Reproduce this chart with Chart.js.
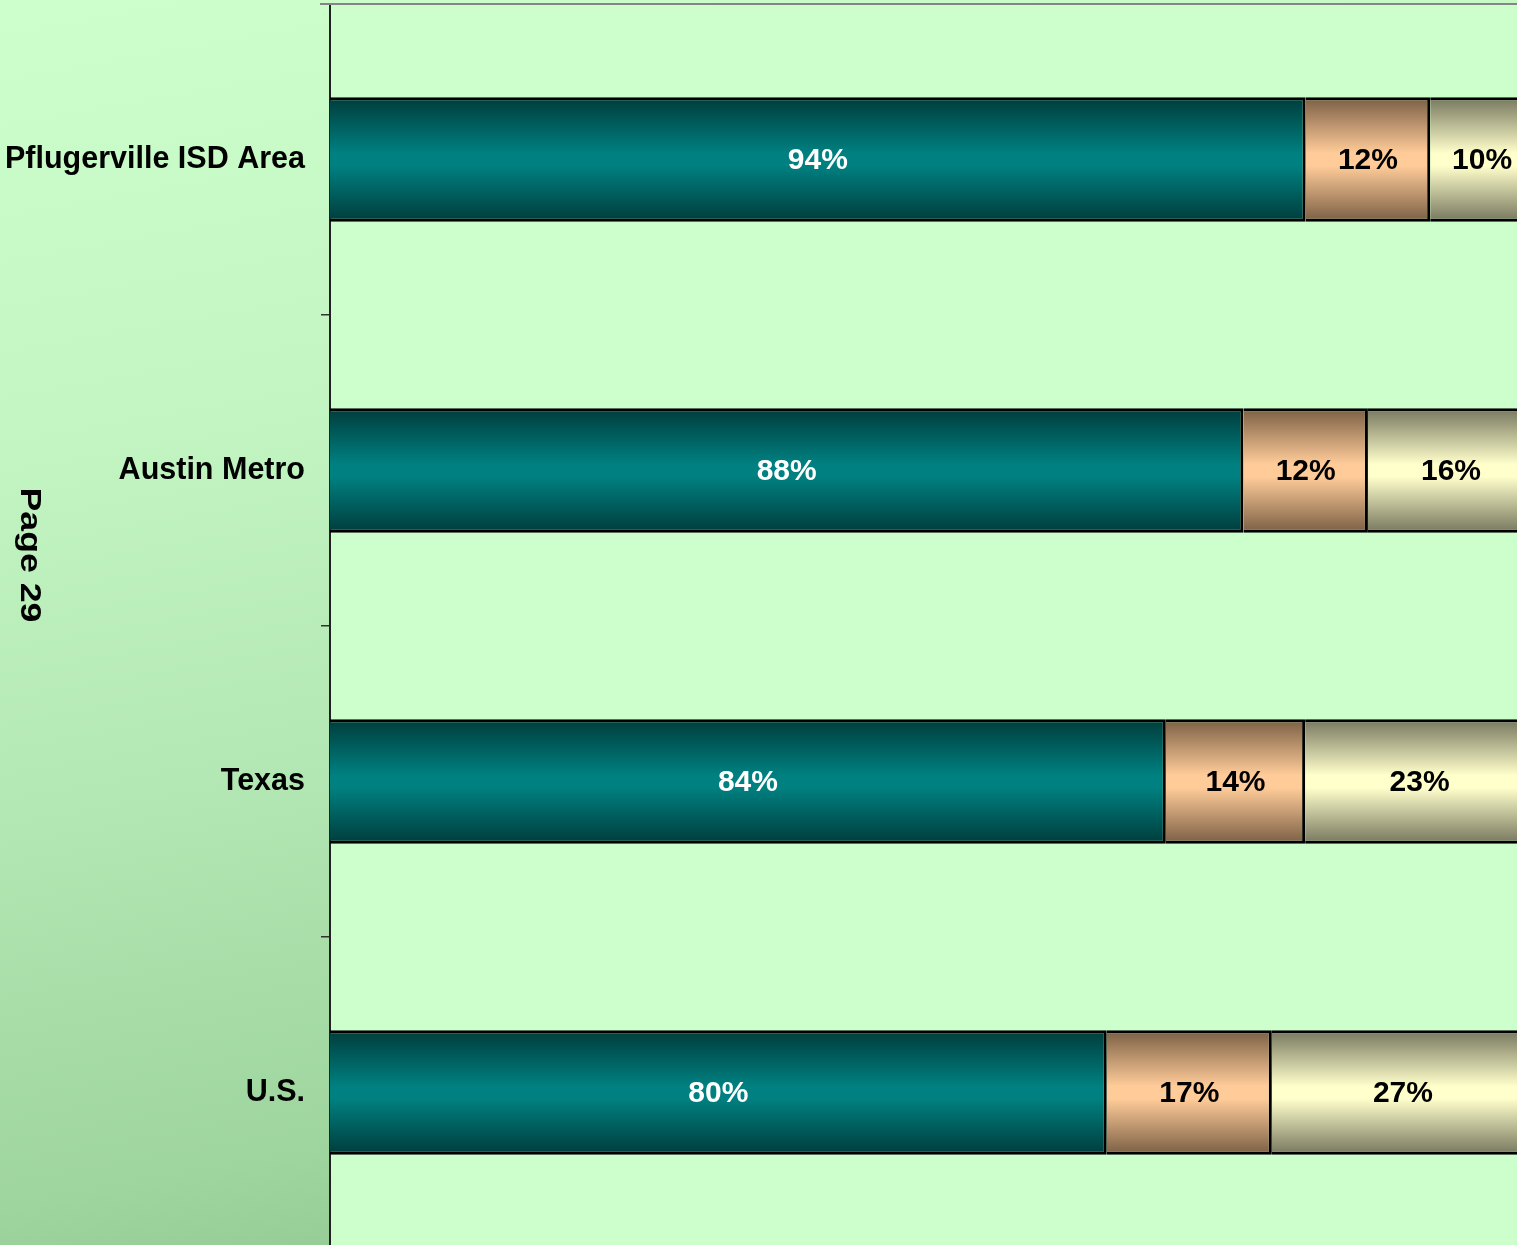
<!DOCTYPE html>
<html>
<head>
<meta charset="utf-8">
<script src="https://cdn.jsdelivr.net/npm/chart.js@4/dist/chart.umd.min.js"></script>
<style>
  html, body { margin: 0; padding: 0; overflow: hidden; width: 1517px; height: 1245px; }
  body { background: linear-gradient(170deg, #cdffcd 0%, #c2f5c2 30%, #b2e6b2 55%, #9ed49e 80%, #86bc86 100%); }
  #wrap { position: absolute; left: 0; top: 0; width: 1540px; height: 1250px; }
</style>
</head>
<body>
<div id="wrap"><canvas id="c" width="1540" height="1250"></canvas></div>
<script>
// ---- data ----
const categories = ['Pflugerville ISD Area', 'Austin Metro', 'Texas', 'U.S.'];
const seriesA = [94, 88, 84, 80];
const seriesB = [12, 12, 14, 17];
const seriesC = [10, 16, 23, 27];
const sideTitle = 'Page 29';

// 100% stacked: each row normalised by its total
const totals = categories.map((_, i) => seriesA[i] + seriesB[i] + seriesC[i]);
const share = arr => arr.map((v, i) => v / totals[i] * 100);

const FONT = '"Liberation Sans", Arial, sans-serif';

function gradFill(base, dark) {
  return function (ctx) {
    const chart = ctx.chart;
    const y = chart.scales && chart.scales.y;
    if (!chart.chartArea || !y || ctx.dataIndex === undefined) return base;
    const c = y.getPixelForValue(ctx.dataIndex);
    const step = Math.abs(y.getPixelForValue(1) - y.getPixelForValue(0)) || 300;
    const h = step * 0.4;
    const g = chart.ctx.createLinearGradient(0, c - h / 2, 0, c + h / 2);
    g.addColorStop(0, dark);
    g.addColorStop(0.45, base);
    g.addColorStop(0.55, base);
    g.addColorStop(1, dark);
    return g;
  };
}

const plotBg = {
  id: 'plotBg',
  beforeDraw(chart) {
    const { ctx, chartArea: a } = chart;
    ctx.save();
    ctx.fillStyle = '#CCFFCC';
    ctx.fillRect(a.left, a.top, a.right - a.left, a.bottom - a.top);
    ctx.restore();
  },
  afterDraw(chart) {
    const { ctx, chartArea: a } = chart;
    ctx.save();
    ctx.strokeStyle = '#858585';
    ctx.lineWidth = 2;
    ctx.beginPath();
    ctx.moveTo(a.left - 10, a.top);
    ctx.lineTo(a.right, a.top);
    ctx.stroke();
    // side title
    ctx.fillStyle = '#000';
    ctx.font = 'bold 30px ' + FONT;
    ctx.textAlign = 'center';
    ctx.textBaseline = 'alphabetic';
    ctx.translate(21, 555);
    ctx.rotate(Math.PI / 2);
    ctx.scale(1.19, 1);
    ctx.fillText(sideTitle, 0, 0);
    ctx.restore();
  }
};

const raw = [seriesA, seriesB, seriesC];
const labelColors = ['#FFFFFF', '#000000', '#000000'];
const valueLabels = {
  id: 'valueLabels',
  afterDatasetsDraw(chart) {
    const ctx = chart.ctx;
    ctx.save();
    ctx.font = 'bold 30px ' + FONT;
    ctx.textAlign = 'center';
    ctx.textBaseline = 'middle';
    chart.data.datasets.forEach((ds, di) => {
      const meta = chart.getDatasetMeta(di);
      meta.data.forEach((el, i) => {
        const p = el.getCenterPoint();
        ctx.fillStyle = labelColors[di];
        ctx.fillText(raw[di][i] + '%', p.x, p.y + 1);
      });
    });
    ctx.restore();
  }
};

new Chart(document.getElementById('c'), {
  type: 'bar',
  data: {
    labels: categories,
    datasets: [
      { label: 'A', data: share(seriesA), backgroundColor: gradFill('#008080', '#003c3c') },
      { label: 'B', data: share(seriesB), backgroundColor: gradFill('#FFCC99', '#7a5e44') },
      { label: 'C', data: share(seriesC), backgroundColor: gradFill('#FFFFCC', '#76765e') }
    ]
  },
  options: {
    indexAxis: 'y',
    responsive: false,
    animation: false,
    layout: { padding: { left: 0, right: 6, top: 4, bottom: 2 } },
    datasets: {
      bar: {
        categoryPercentage: 1,
        barPercentage: 0.4,
        borderColor: '#000',
        borderWidth: 3,
        borderSkipped: 'start'
      }
    },
    plugins: { legend: { display: false }, tooltip: { enabled: false } },
    scales: {
      x: { stacked: true, min: 0, max: 100, display: false },
      y: {
        stacked: true,
        offset: true,
        grid: { offset: true, drawOnChartArea: false, drawTicks: true, tickLength: 9, color: '#333', lineWidth: 1.5 },
        border: { display: true, color: '#222', width: 2 },
        ticks: { color: '#000', padding: 16, font: { family: FONT, size: 30.5, weight: 'bold' } },
        afterFit(scale) { scale.width = 330; scale.paddingTop = 0; scale.paddingBottom = 0; }
      }
    }
  },
  plugins: [plotBg, valueLabels]
});
</script>
</body>
</html>
